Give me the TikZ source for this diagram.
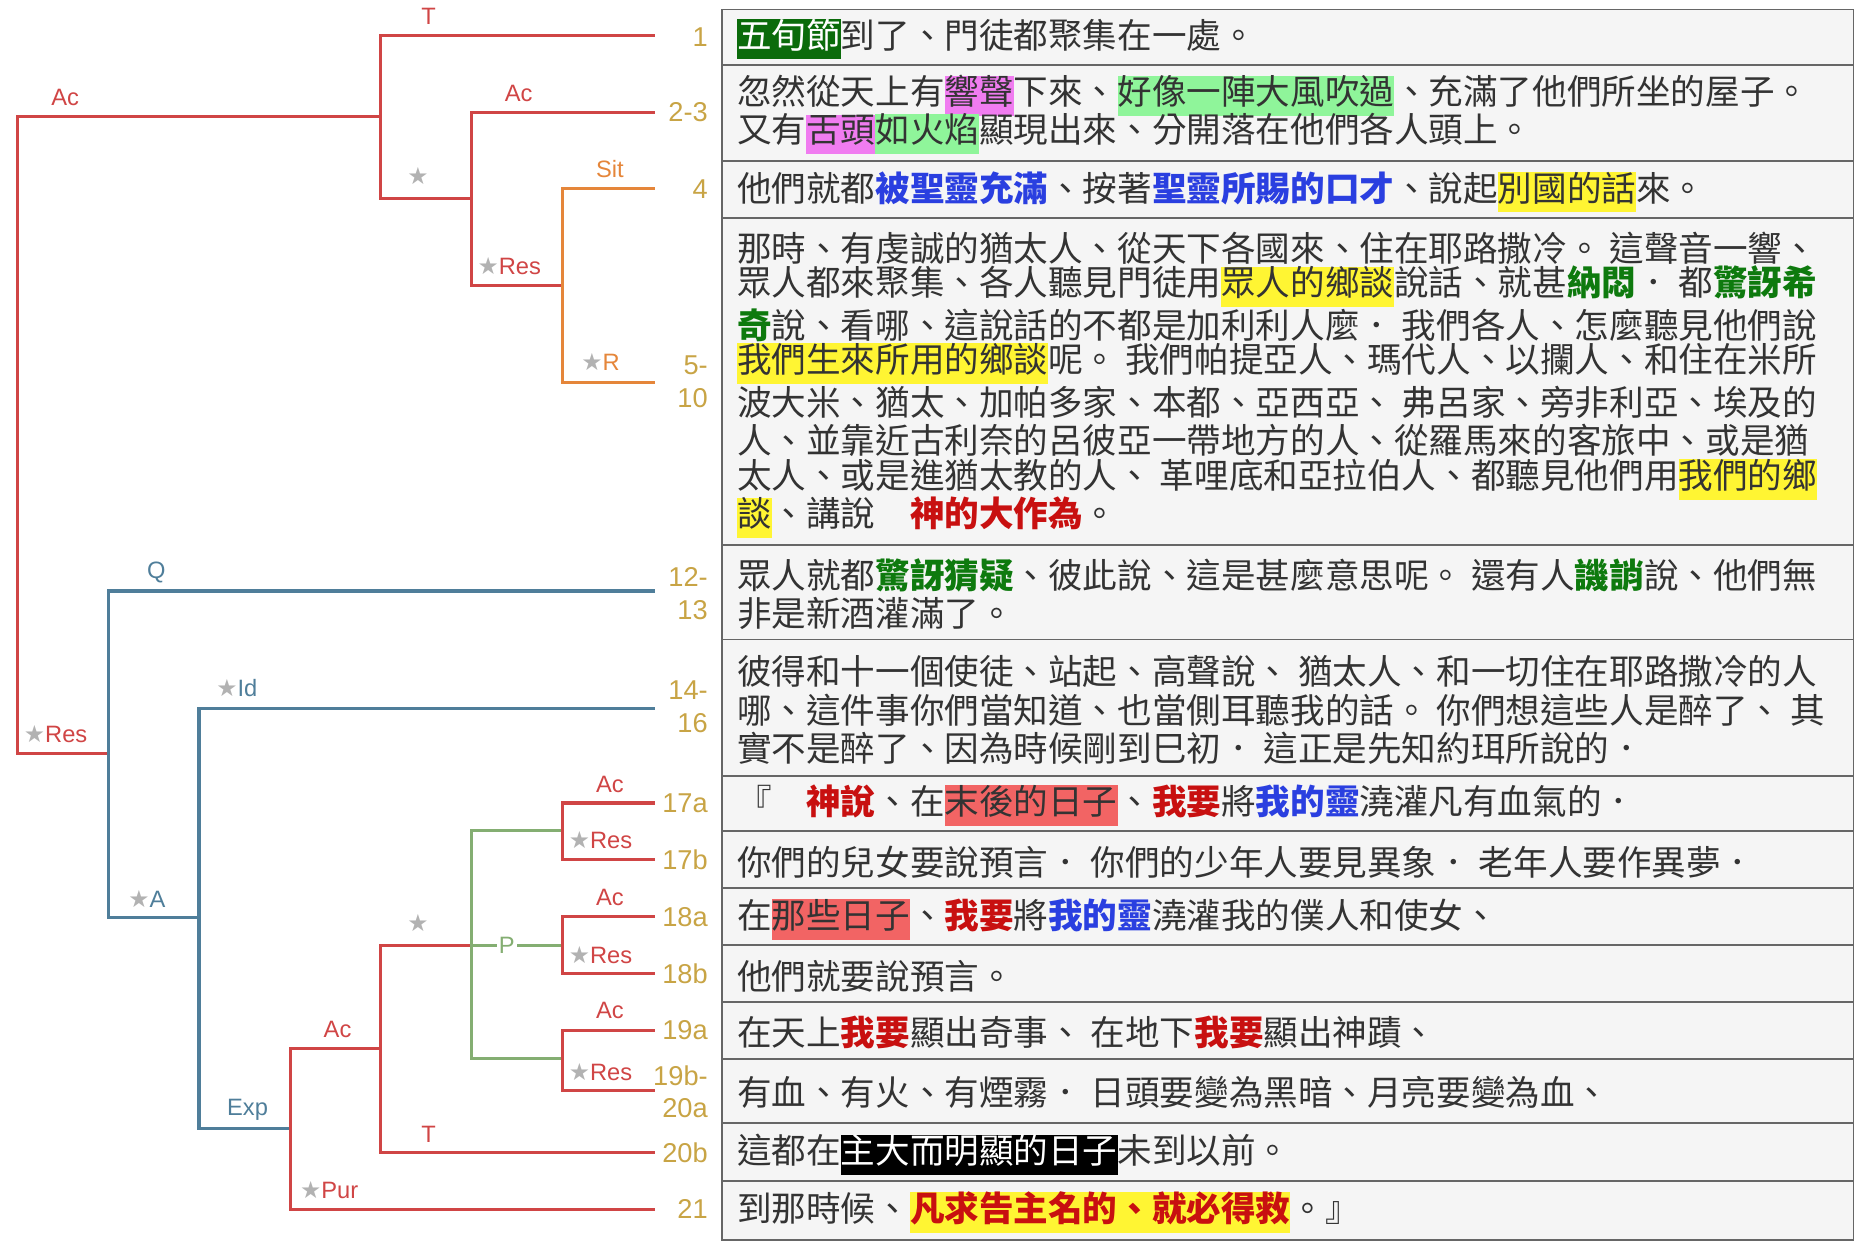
\documentclass[tikz,border=0pt]{standalone}
\usepackage{fontspec}
\setmainfont{Liberation Sans}
\newfontfamily\cjk{Noto Sans CJK TC}
\newfontfamily\djv{DejaVu Sans}
\usepackage{xcolor}
\definecolor{tr}{HTML}{D04545}
\definecolor{tor}{HTML}{E5863A}
\definecolor{tb}{HTML}{4F7E9A}
\definecolor{tg}{HTML}{84AE72}
\definecolor{gold}{HTML}{C8A445}
\definecolor{txc}{HTML}{333333}
\definecolor{hdg}{HTML}{0B6B0B}
\definecolor{hpk}{HTML}{F07CF0}
\definecolor{hlg}{HTML}{8FF59A}
\definecolor{hy}{HTML}{FFF533}
\definecolor{hrd}{HTML}{F26464}
\definecolor{tblue}{HTML}{2A3FE0}
\definecolor{tred}{HTML}{C81010}
\definecolor{tgreen}{HTML}{0E7A0E}
\newcommand{\hb}[2]{{\setlength{\fboxsep}{0pt}\colorbox{#1}{\strut #2}}}
\newcommand{\bc}[2]{\textcolor{#1}{\textbf{#2}}}
\newcommand{\st}{\textcolor{gray!60}{\djv ★}}
\begin{document}
\begin{tikzpicture}[x=0.5pt,y=-0.5pt,
 txt/.style={inner sep=0pt,anchor=west,font=\cjk\fontsize{14.6}{16}\selectfont,text=txc},
 num/.style={inner sep=0pt,anchor=east,font=\fontsize{11.5}{12}\selectfont,text=gold},
 lab/.style={inner sep=0pt,font=\fontsize{10}{11}\selectfont},
 br/.style={line width=1.3pt}]
\useasboundingbox (0,0) rectangle (1568,1053);
% table
\draw[line width=0.8pt,draw=gray!80!black,fill=gray!8] (610,8) rectangle (1565,1047);
\foreach \yy in {55,136,184,460,540,655,702,750,798,846,894,948,997}
  \draw[line width=0.8pt,gray!80!black] (610,\yy) -- (1565,\yy);
% tree
\draw[br,tr] (553,30) -| (321,168) -- (398,168);
\draw[br,tr] (321,98) -| (15,636) -- (92,636);
\draw[br,tr] (553,95) -| (398,241) -- (475,241);
\draw[br,tor] (553,159) -| (475,323) -- (553,323);
\draw[br,tb] (553,499) -| (92,775) -- (168,775);
\draw[br,tb] (553,598) -| (168,953) -- (245,953);
\draw[br,tr] (321,885) -| (245,1021) -- (553,1021);
\draw[br,tr] (398,798) -| (321,973) -- (553,973);
\draw[br,tg] (475,701) -| (398,894) -- (475,894);
\draw[br,tg] (398,798) -- (475,798);
\draw[br,tr] (553,678) -| (475,726) -- (553,726);
\draw[br,tr] (553,774) -| (475,822) -- (553,822);
\draw[br,tr] (553,870) -| (475,921) -- (553,921);
% labels
\node[lab,text=tr] (a1) at (362,14) {T};
\node[lab,text=tr] (a2) at (55,82) {Ac};
\node[lab,text=tr] (a3) at (438,79) {Ac};
\node[lab] (a4) at (353,149) {\st};
\node[lab,text=tr] (a5) at (430,225) {\st Res};
\node[lab,text=tor] (a6) at (515,143) {Sit};
\node[lab,text=tor] (a7) at (507,306) {\st R};
\node[lab,text=tr] (a8) at (47,620) {\st Res};
\node[lab,text=tb] (a9) at (132,483) {Q};
\node[lab,text=tb] (a10) at (200,581) {\st Id};
\node[lab,text=tb] (a11) at (124,759) {\st A};
\node[lab,text=tb] (a12) at (209,937) {Exp};
\node[lab,text=tr] (a13) at (285,869) {Ac};
\node[lab,text=tr] (a14) at (278,1005) {\st Pur};
\node[lab] (a15) at (353,779) {\st};
\node[lab,text=tr] (a16) at (362,958) {T};
\node[lab,text=tg,fill=white,inner sep=1pt] (a17) at (428,798) {P};
\node[lab,text=tr] (a18) at (515,662) {Ac};
\node[lab,text=tr] (a19) at (507,709) {\st Res};
\node[lab,text=tr] (a20) at (515,758) {Ac};
\node[lab,text=tr] (a21) at (507,806) {\st Res};
\node[lab,text=tr] (a22) at (515,853) {Ac};
\node[lab,text=tr] (a23) at (507,905) {\st Res};
% numbers
\node[num] (n1) at (598,31) {1};
\node[num] (n2) at (598,95) {2-3};
\node[num] (n3) at (598,160) {4};
\node[num] (n4) at (598,308) {5-};
\node[num] (n5) at (598,336) {10};
\node[num] (n6) at (598,487) {12-};
\node[num] (n7) at (598,515) {13};
\node[num] (n8) at (598,583) {14-};
\node[num] (n9) at (598,611) {16};
\node[num] (n10) at (598,678) {17a};
\node[num] (n11) at (598,726) {17b};
\node[num] (n12) at (598,774) {18a};
\node[num] (n13) at (598,822) {18b};
\node[num] (n14) at (598,870) {19a};
\node[num] (n15) at (598,908) {19b-};
\node[num] (n16) at (598,936) {20a};
\node[num] (n17) at (598,973) {20b};
\node[num] (n18) at (598,1021) {21};
% text
\node[txt] (t1) at (622,33) {\hb{hdg}{\textcolor{white}{五旬節}}到了、門徒都聚集在一處。};
\node[txt] (t2) at (622,81) {忽然從天上有\hb{hpk}{響聲}下來、\hb{hlg}{好像一陣大風吹過}、充滿了他們所坐的屋子。};
\node[txt] (t3) at (622,113) {又有\hb{hpk}{舌頭}\hb{hlg}{如火焰}顯現出來、分開落在他們各人頭上。};
\node[txt] (t4) at (622,162) {他們就都\bc{tblue}{被聖靈充滿}、按著\bc{tblue}{聖靈所賜的口才}、說起\hb{hy}{別國的話}來。};
\node[txt] (t5) at (622,210) {那時、有虔誠的猶太人、從天下各國來、住在耶路撒冷。 這聲音一響、};
\node[txt] (t6) at (622,242) {眾人都來聚集、各人聽見門徒用\hb{hy}{眾人的鄉談}說話、就甚\bc{tgreen}{納悶}． 都\bc{tgreen}{驚訝希}};
\node[txt] (t7) at (622,275) {\bc{tgreen}{奇}說、看哪、這說話的不都是加利利人麼． 我們各人、怎麼聽見他們說};
\node[txt] (t8) at (622,307) {\hb{hy}{我們生來所用的鄉談}呢。 我們帕提亞人、瑪代人、以攔人、和住在米所};
\node[txt] (t9) at (622,340) {波大米、猶太、加帕多家、本都、亞西亞、 弗呂家、旁非利亞、埃及的};
\node[txt] (t10) at (622,372) {人、並靠近古利奈的呂彼亞一帶地方的人、從羅馬來的客旅中、或是猶};
\node[txt] (t11) at (622,405) {太人、或是進猶太教的人、 革哩底和亞拉伯人、都聽見他們用\hb{hy}{我們的鄉}};
\node[txt] (t12) at (622,437) {\hb{hy}{談}、講說　\bc{tred}{神的大作為}。};
\node[txt] (t13) at (622,486) {眾人就都\bc{tgreen}{驚訝猜疑}、彼此說、這是甚麼意思呢。 還有人\bc{tgreen}{譏誚}說、他們無};
\node[txt] (t14) at (622,518) {非是新酒灌滿了。};
\node[txt] (t15) at (622,567) {彼得和十一個使徒、站起、高聲說、 猶太人、和一切住在耶路撒冷的人};
\node[txt] (t16) at (622,600) {哪、這件事你們當知道、也當側耳聽我的話。 你們想這些人是醉了、 其};
\node[txt] (t17) at (622,632) {實不是醉了、因為時候剛到巳初． 這正是先知約珥所說的．};
\node[txt] (t18) at (622,680) {『　\bc{tred}{神說}、在\hb{hrd}{末後的日子}、\bc{tred}{我要}將\bc{tblue}{我的靈}澆灌凡有血氣的．};
\node[txt] (t19) at (622,728) {你們的兒女要說預言． 你們的少年人要見異象． 老年人要作異夢．};
\node[txt] (t20) at (622,776) {在\hb{hrd}{那些日子}、\bc{tred}{我要}將\bc{tblue}{我的靈}澆灌我的僕人和使女、};
\node[txt] (t21) at (622,824) {他們就要說預言。};
\node[txt] (t22) at (622,872) {在天上\bc{tred}{我要}顯出奇事、 在地下\bc{tred}{我要}顯出神蹟、};
\node[txt] (t23) at (622,922) {有血、有火、有煙霧． 日頭要變為黑暗、月亮要變為血、};
\node[txt] (t24) at (622,975) {這都在\hb{black}{\textcolor{white}{主大而明顯的日子}}未到以前。};
\node[txt] (t25) at (622,1024) {到那時候、\hb{hy}{\bc{tred}{凡求告主名的、就必得救}}。』};
\end{tikzpicture}
\end{document}
